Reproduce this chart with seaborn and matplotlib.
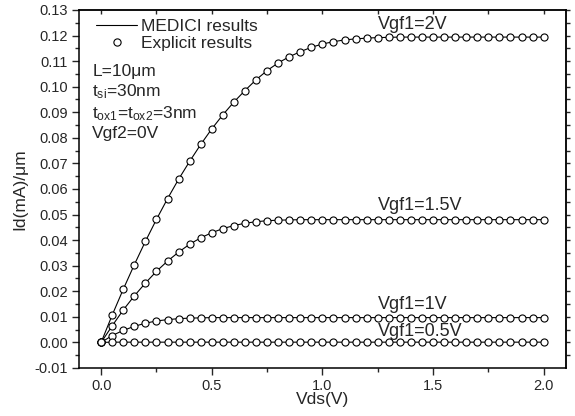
import numpy as np
import pandas as pd
import matplotlib
matplotlib.use("Agg")
import matplotlib.pyplot as plt
from matplotlib.lines import Line2D
from matplotlib.ticker import MultipleLocator
import seaborn as sns

sns.set_style("ticks")
plt.rcParams['font.family'] = ['Liberation Sans', 'DejaVu Sans']
plt.rcParams['mathtext.fontset'] = 'custom'
plt.rcParams['mathtext.rm'] = 'Liberation Sans'
plt.rcParams['mathtext.it'] = 'Liberation Sans'

# Vds grid (V)
vds = [0.00, 0.05, 0.10, 0.15, 0.20, 0.25, 0.30, 0.35, 0.40, 0.45,
       0.50, 0.55, 0.60, 0.65, 0.70, 0.75, 0.80, 0.85, 0.90, 0.95,
       1.00, 1.05, 1.10, 1.15, 1.20, 1.25, 1.30, 1.35, 1.40, 1.45,
       1.50, 1.55, 1.60, 1.65, 1.70, 1.75, 1.80, 1.85, 1.90, 1.95, 2.00]

# Id (mA/um)
id_2v = [0.0, 0.0107, 0.0208, 0.0304, 0.0395, 0.0481, 0.0562, 0.0638, 0.0708, 0.0774,
         0.0835, 0.0890, 0.0940, 0.0985, 0.1027, 0.1063, 0.1093, 0.1117, 0.1137, 0.1154,
         0.1167, 0.1176, 0.1183, 0.1187, 0.1190, 0.1192, 0.1193] + [0.1194] * 14
id_15v = [0.0, 0.0065, 0.0127, 0.0182, 0.0232, 0.0278, 0.0318, 0.0353, 0.0384, 0.0409,
          0.0429, 0.0445, 0.0457, 0.0466, 0.0472, 0.0476, 0.0478, 0.0479] + [0.0480] * 23
id_1v = [0.0, 0.0027, 0.0047, 0.0063, 0.0075, 0.0084, 0.0089, 0.0093, 0.0095, 0.0096] + [0.0097] * 31
id_05v = [0.0] + [0.0001] * 40

curves = {"Vgf1=2V": id_2v, "Vgf1=1.5V": id_15v, "Vgf1=1V": id_1v, "Vgf1=0.5V": id_05v}
label_y = {"Vgf1=2V": 0.1225, "Vgf1=1.5V": 0.0518, "Vgf1=1V": 0.0129, "Vgf1=0.5V": 0.0025}

df = pd.concat([pd.DataFrame({"vds": vds, "id": v, "gate": k}) for k, v in curves.items()])

fig = plt.figure(figsize=(5.75, 4.16), dpi=100)
ax = fig.add_axes([0.1374, 0.1154, 0.8466, 0.8606])

for g, sub in df.groupby("gate", sort=False):
    sns.lineplot(data=sub, x="vds", y="id", color="black", lw=0.8, ax=ax, zorder=2)
    sns.scatterplot(data=sub, x="vds", y="id", marker="o", s=26, facecolor="white",
                    edgecolor="black", linewidth=0.8, ax=ax, zorder=3)
    ax.text(1.25, label_y[g], g, fontsize=13, ha="left", va="baseline")

ax.set_xlim(-0.1, 2.1)
ax.set_ylim(-0.01, 0.13)
ax.xaxis.set_minor_locator(MultipleLocator(0.25))
ax.yaxis.set_minor_locator(MultipleLocator(0.005))
ax.set_xticks([0, 0.5, 1.0, 1.5, 2.0])
ax.set_xticklabels(["0.0", "0.5", "1.0", "1.5", "2.0"])
yt = np.round(np.arange(-0.01, 0.1301, 0.01), 2)
ax.set_yticks(yt)
ax.set_yticklabels([f"{t:.2f}" for t in yt])
ax.tick_params(which="major", direction="out", length=5, width=1.0, labelsize=10.5, pad=3)
ax.tick_params(which="minor", direction="out", length=3, width=1.0)
for sp in ax.spines.values():
    sp.set_linewidth(1.1)
    sp.set_color("black")

# right and top axes: ticks only
ax2 = ax.secondary_yaxis("right")
ax2.set_yticks(np.arange(-0.005, 0.1301, 0.005))
ax2.tick_params(direction="out", length=3, width=1.0, labelright=False)
ax2.spines["right"].set_linewidth(1.1)
ax3 = ax.secondary_xaxis("top")
ax3.set_xticks([0, 0.25, 0.5, 0.75, 1.0, 1.25, 1.5, 1.75, 2.0])
ax3.tick_params(direction="in", length=3, width=1.0, labeltop=False)
ax3.spines["top"].set_linewidth(1.1)

ax.set_xlabel("Vds(V)", fontsize=12.5, labelpad=-1)
ax.set_ylabel("Id(mA)/\u03bcm", fontsize=12.5, labelpad=5)

handles = [Line2D([], [], color="black", lw=0.8),
           Line2D([], [], color="black", lw=0, marker="o", markersize=5.2,
                  markerfacecolor="white", markeredgewidth=0.8)]
ax.legend(handles, ["MEDICI results", "Explicit results"], loc="upper left",
          bbox_to_anchor=(0.014, 1.005), frameon=False, fontsize=12.5,
          handlelength=2.35, handletextpad=0.25, labelspacing=0.1, borderpad=0.1)

ax.text(-0.04, 0.1042, "L=10\u03bcm", fontsize=12.5, va="baseline")
ax.text(-0.04, 0.0961, r"t$_{\mathregular{si}}$=30nm", fontsize=12.5, va="baseline")
ax.text(-0.04, 0.0876, r"t$_{\mathregular{ox1}}$=t$_{\mathregular{ox2}}$=3nm", fontsize=12.5, va="baseline")
ax.text(-0.04, 0.0798, "Vgf2=0V", fontsize=12.5, va="baseline")

fig.savefig("out.png", dpi=100)
